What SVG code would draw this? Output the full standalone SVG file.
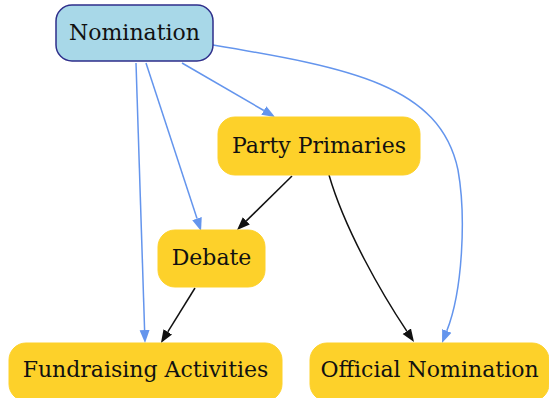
<svg xmlns="http://www.w3.org/2000/svg" width="549" height="398" viewBox="0 0 549 398">
<style>
.t{font-family:"DejaVu Serif",serif;font-size:22px;fill:#111;text-anchor:middle;dominant-baseline:central}
.y{fill:#fdd12a;stroke:#fdd12a}
.e{fill:none;stroke-width:1.5}
.b{stroke:#6495ed}
.k{stroke:#111}
</style>
<defs>
<marker id="ab" markerUnits="userSpaceOnUse" markerWidth="14" markerHeight="11" refX="0" refY="5.5" orient="auto"><path d="M0,0.5 L13,5.5 L0,10.5 z" fill="#6495ed"/></marker>
<marker id="ak" markerUnits="userSpaceOnUse" markerWidth="14" markerHeight="11" refX="0" refY="5.5" orient="auto"><path d="M0,0.5 L13,5.5 L0,10.5 z" fill="#111"/></marker>
</defs>
<rect width="549" height="398" fill="#fff"/>
<g id="connectors">
<path class="e b" d="M182,63 L263.8,110.5" marker-end="url(#ab)"/>
<path class="e b" d="M146,63 L197,218.6" marker-end="url(#ab)"/>
<path class="e b" d="M136,63 L144.6,330" marker-end="url(#ab)"/>
<path class="e b" d="M213,45 C350,68 440,85 458,170 C466,215 463,290 446.8,330.9" marker-end="url(#ab)"/>
<path class="e k" d="M292,176 L246.3,220.9" marker-end="url(#ak)"/>
<path class="e k" d="M195,288 L167.8,331.9" marker-end="url(#ak)"/>
<path class="e k" d="M329,175 C345,230 382,294 406.8,331.2" marker-end="url(#ak)"/>
</g>
<g id="nomination">
<rect x="56" y="5" width="157" height="56" rx="16" fill="#a8d8e8" stroke="#2e2e8b" stroke-width="1.5"/>
<text class="t" x="134.5" y="32">Nomination</text>
</g>
<g id="party-primaries">
<rect class="y" x="218" y="117" width="202" height="58" rx="17"/>
<text class="t" x="319" y="145">Party Primaries</text>
</g>
<g id="debate">
<rect class="y" x="158" y="230" width="107" height="57" rx="17"/>
<text class="t" x="211.5" y="257">Debate</text>
</g>
<g id="fundraising">
<rect class="y" x="9" y="343" width="273" height="58" rx="17"/>
<text class="t" x="145.5" y="369">Fundraising Activities</text>
</g>
<g id="official-nomination">
<rect class="y" x="310" y="343" width="239" height="58" rx="17"/>
<text class="t" x="429.5" y="369">Official Nomination</text>
</g>
</svg>
